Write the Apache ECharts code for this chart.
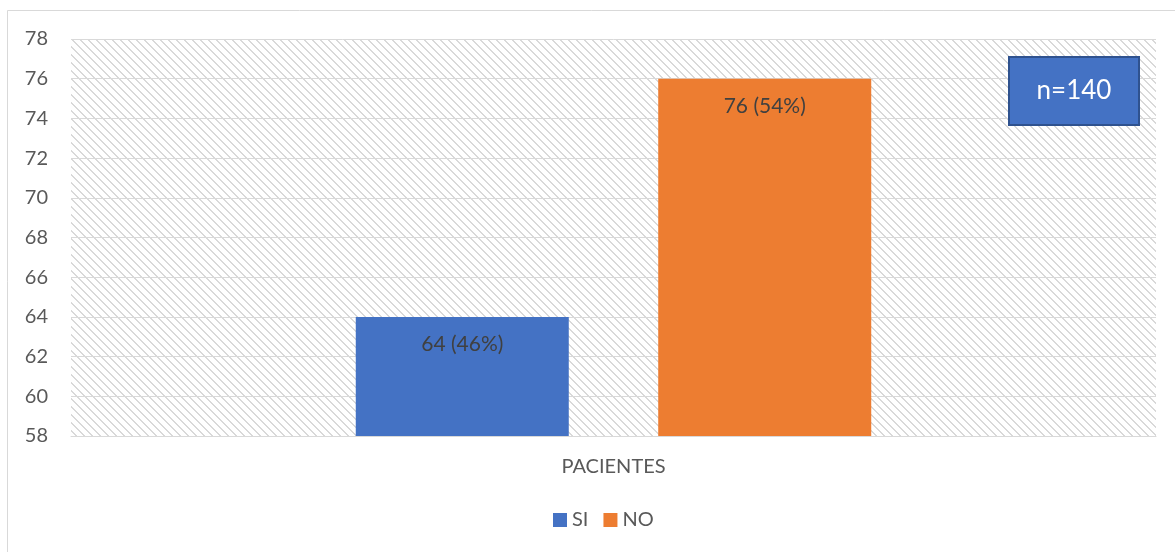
<!DOCTYPE html>
<html>
<head>
<meta charset="utf-8">
<script src="https://cdn.jsdelivr.net/npm/echarts@6/dist/echarts.min.js"></script>
<style>
  html, body { margin: 0; padding: 0; background: #fff; }
  #chart { width: 1175px; height: 552px; }
</style>
</head>
<body>
<div id="chart"></div>
<script>
// Patients answering SI / NO (n = 140)
const categories = ['PACIENTES'];
const seriesNames = ['SI', 'NO'];
const siValues = [64];
const noValues = [76];
const percentSi = ['46%'];
const percentNo = ['54%'];
const sampleLabel = 'n=140';

const FONT = 'Lato, "Open Sans", sans-serif';

// Light diagonal hatch used as the plot-area background
function hatchPattern() {
  const c = document.createElement('canvas');
  c.width = 8; c.height = 8;
  const ctx = c.getContext('2d');
  ctx.fillStyle = '#ffffff';
  ctx.fillRect(0, 0, 8, 8);
  ctx.fillStyle = '#d9d9d9';
  for (let i = 0; i < 8; i++) {
    ctx.fillRect(i, i, 1, 1);
    ctx.fillRect((i + 1) % 8, i, 1, 1);
  }
  return c;
}

const chart = echarts.init(document.getElementById('chart'), null, { renderer: 'canvas' });

function barLabel(pcts) {
  return {
    show: true,
    position: 'insideTop',
    distance: 17,
    color: '#404040',
    fontSize: 21,
    fontFamily: FONT,
    formatter: p => p.value + ' (' + pcts[p.dataIndex] + ')'
  };
}

chart.setOption({
  animation: false,
  backgroundColor: '#ffffff',
  grid: {
    left: 71, right: 19, top: 39, bottom: 116,
    show: true,
    borderWidth: 0,
    backgroundColor: { image: hatchPattern(), repeat: 'repeat' }
  },
  legend: {
    data: seriesNames,
    bottom: 17,
    left: 548,
    itemWidth: 14,
    itemHeight: 14,
    itemGap: 15,
    icon: 'rect',
    textStyle: { color: '#595959', fontSize: 20, fontFamily: FONT }
  },
  xAxis: {
    type: 'category',
    data: categories,
    axisLine: { show: true, lineStyle: { color: '#d9d9d9', width: 1 } },
    axisTick: { show: false },
    axisLabel: { color: '#595959', fontSize: 20, fontFamily: FONT, margin: 21 }
  },
  yAxis: {
    type: 'value',
    min: 58,
    max: 78,
    interval: 2,
    axisLine: { show: false },
    axisTick: { show: false },
    axisLabel: { color: '#595959', fontSize: 20, fontFamily: FONT, margin: 23 },
    splitLine: { lineStyle: { color: '#d9d9d9', width: 1 } }
  },
  series: [
    {
      name: 'SI',
      type: 'bar',
      data: siValues,
      barWidth: 213,
      barGap: '42%',
      itemStyle: { color: '#4472C4' },
      label: barLabel(percentSi)
    },
    {
      name: 'NO',
      type: 'bar',
      data: noValues,
      barWidth: 213,
      barGap: '42%',
      itemStyle: { color: '#ED7D31' },
      label: barLabel(percentNo)
    }
  ],
  graphic: [
    {
      type: 'rect',
      shape: { x: 7.5, y: 10.5, width: 1200, height: 600 },
      style: { fill: 'none', stroke: '#d9d9d9', lineWidth: 1 },
      silent: true,
      z: -1
    },
    {
      type: 'group',
      left: 1008,
      top: 56,
      z: 100,
      children: [
        {
          type: 'rect',
          z: 100,
          shape: { x: 0, y: 0, width: 130, height: 68 },
          style: { fill: '#4472C4', stroke: '#2F528F', lineWidth: 2 }
        },
        {
          type: 'text',
          z: 101,
          x: 65,
          y: 34,
          style: {
            text: sampleLabel,
            fill: '#ffffff',
            fontSize: 26,
            fontFamily: FONT,
            align: 'center',
            verticalAlign: 'middle'
          }
        }
      ]
    }
  ]
});
</script>
</body>
</html>
